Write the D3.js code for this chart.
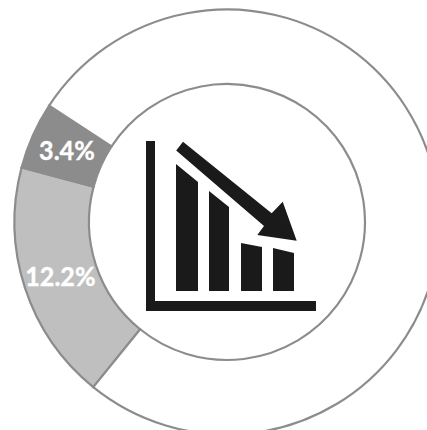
<!DOCTYPE html>
<html>
<head>
<meta charset="utf-8">
<script src="https://cdn.jsdelivr.net/npm/d3@7/dist/d3.min.js"></script>
<style>
html,body{margin:0;padding:0;background:#fff;overflow:hidden}
svg{display:block}
</style>
</head>
<body>
<div id="chart"></div>
<script>
// ring data: the reference's slices sweep about 5.4 degrees per percent, the rest is unlabelled
const sliceLabels = ["12.2%", "3.4%", ""];
const sliceValues = [12.2, 3.4, 51.1];
const sliceColors = ["#bfbfbf", "#8c8c8c", "#ffffff"];

// pictogram in its own 0-170 unit space
const barStartX = [30, 63, 95, 127];
const barEndX = [52, 83, 116, 148];
const barTopLeft = [23, 50, 102, 107];
const barTopRight = [41, 66, 106, 112];
const barBase = 150;
const axisX = [0, 9, 9, 170, 170, 0];
const axisY = [0, 0, 160, 160, 170, 170];
const arrowX = [37, 125.7, 136.7, 150.7, 111.3, 118, 30.2];
const arrowY = [0.7, 72.3, 60.7, 99.7, 94, 85, 9.5];

const W = 427, H = 430, cx = 227, cy = 222, rOuter = 212.5, rInner = 138;
const svg = d3.select("#chart").append("svg").attr("width", W).attr("height", H);
const g = svg.append("g").attr("transform", `translate(${cx},${cy})`);

const start = 219 * Math.PI / 180;
const pie = d3.pie().sort(null).startAngle(start).endAngle(start + 2 * Math.PI);
const arc = d3.arc().innerRadius(rInner).outerRadius(rOuter);
const arcs = pie(sliceValues);

g.selectAll("path.slice").data(arcs).join("path")
  .attr("class", "slice")
  .attr("d", arc)
  .attr("fill", (d, i) => sliceColors[i])
  .attr("stroke", "#8c8c8c")
  .attr("stroke-width", 2.2);

g.selectAll("text.label").data(arcs).join("text")
  .attr("class", "label")
  .attr("transform", d => `translate(${arc.centroid(d)}) scale(0.93,1)`)
  .attr("text-anchor", "middle")
  .attr("dy", "0.36em")
  .attr("font-family", "Lato, sans-serif")
  .attr("font-weight", 700)
  .attr("font-size", 27)
  .attr("fill", "#fff")
  .attr("stroke", "#fff")
  .attr("stroke-width", 0.4)
  .text((d, i) => sliceLabels[i]);

const ix = d3.scaleLinear().domain([0, 170]).range([146, 316]);
const iy = d3.scaleLinear().domain([0, 170]).range([141, 311]);
const poly = d3.line().x(d => ix(d[0])).y(d => iy(d[1]));
const icon = svg.append("g").attr("fill", "#1a1a1a");

icon.append("path").attr("d", poly(d3.zip(axisX, axisY)) + "Z");
icon.append("path").attr("d", poly(d3.zip(arrowX, arrowY)) + "Z");
icon.selectAll("path.bar").data(barStartX).join("path")
  .attr("class", "bar")
  .attr("d", (d, i) => poly([
    [barStartX[i], barBase], [barStartX[i], barTopLeft[i]],
    [barEndX[i], barTopRight[i]], [barEndX[i], barBase]
  ]) + "Z");
</script>
</body>
</html>
